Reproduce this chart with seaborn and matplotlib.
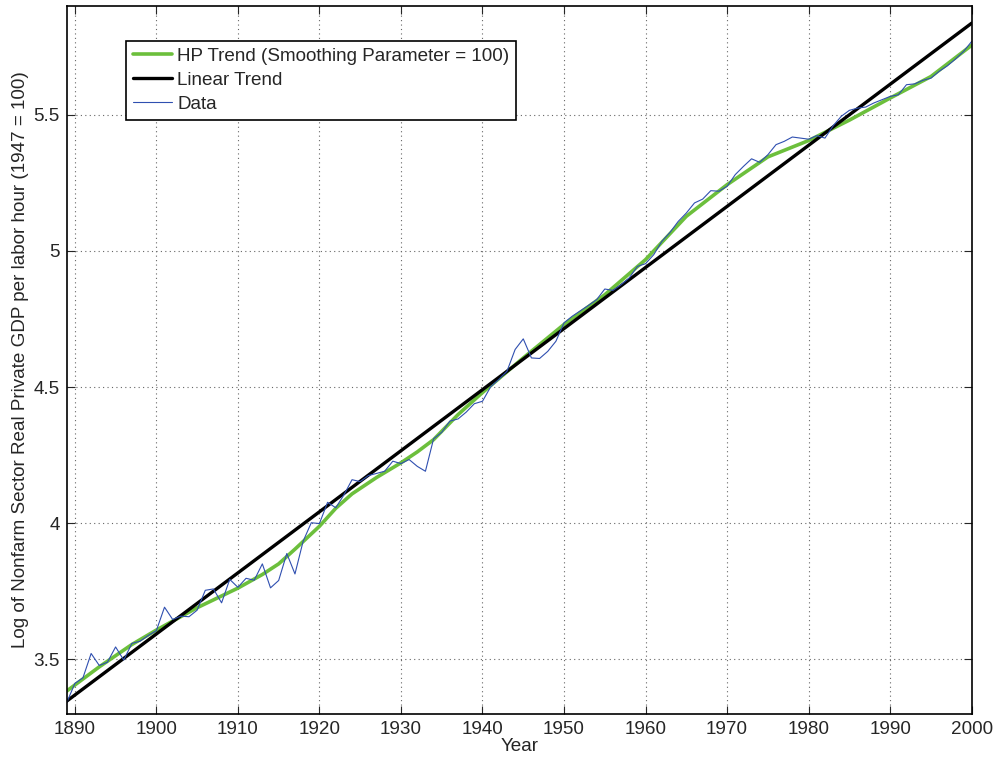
import numpy as np
import pandas as pd
import seaborn as sns
import matplotlib.pyplot as plt

# Log of nonfarm real GDP per labor hour
years = list(range(1889, 2001))
log_gdp = [
    3.341, 3.412, 3.433, 3.522, 3.478, 3.490, 3.546, 3.498, 3.559, 3.567, 3.588,  # 1889-1899
    3.606, 3.692, 3.647, 3.659, 3.657, 3.681, 3.754, 3.759, 3.708, 3.794,         # 1900-1909
    3.765, 3.798, 3.791, 3.851, 3.763, 3.790, 3.889, 3.814, 3.934, 4.002,         # 1910-1919
    3.999, 4.077, 4.057, 4.104, 4.160, 4.153, 4.175, 4.183, 4.191, 4.228,         # 1920-1929
    4.219, 4.234, 4.209, 4.191, 4.310, 4.334, 4.375, 4.383, 4.408, 4.439,         # 1930-1939
    4.448, 4.501, 4.528, 4.558, 4.638, 4.677, 4.607, 4.605, 4.631, 4.668,         # 1940-1949
    4.736, 4.760, 4.780, 4.800, 4.821, 4.860, 4.855, 4.876, 4.901, 4.943,         # 1950-1959
    4.953, 4.986, 5.035, 5.068, 5.108, 5.139, 5.176, 5.190, 5.221, 5.219,         # 1960-1969
    5.237, 5.280, 5.310, 5.338, 5.325, 5.353, 5.390, 5.402, 5.418, 5.414,         # 1970-1979
    5.410, 5.423, 5.414, 5.459, 5.494, 5.516, 5.524, 5.528, 5.543, 5.555,         # 1980-1989
    5.567, 5.573, 5.610, 5.613, 5.626, 5.634, 5.659, 5.679, 5.704, 5.732,         # 1990-1999
    5.769,                                                                        # 2000
]

# HP trend (lambda = 100)
hp_years = [1889, 1893, 1897, 1900, 1905, 1910, 1913, 1915, 1917, 1920, 1922, 1924,
            1927, 1930, 1932, 1934, 1937, 1940, 1945, 1950, 1955, 1960, 1965, 1970,
            1975, 1980, 1985, 1990, 1995, 2000]
hp_trend = [3.384, 3.473, 3.555, 3.608, 3.690, 3.762, 3.812, 3.851, 3.905, 3.989, 4.055, 4.108,
            4.168, 4.222, 4.262, 4.307, 4.399, 4.480, 4.607, 4.730, 4.839, 4.968, 5.127, 5.243,
            5.345, 5.405, 5.480, 5.561, 5.640, 5.755]

# Linear trend end points
lin_years = [1889, 2000]
lin_trend = [3.347, 5.836]

sns.set_style("ticks")
plt.rcParams['font.family'] = ['Liberation Sans', 'DejaVu Sans']
fs = 13.6

fig = plt.figure(figsize=(9.95, 7.61), dpi=100)
ax = fig.add_axes([0.067, 0.0618, 0.9096, 0.9307])

sns.lineplot(x=hp_years, y=hp_trend, ax=ax, color='#6cbf3c', linewidth=2.6,
             label='HP Trend (Smoothing Parameter = 100)', sort=False)
sns.lineplot(x=lin_years, y=lin_trend, ax=ax, color='black', linewidth=2.4,
             label='Linear Trend', sort=False)
sns.lineplot(x=years, y=log_gdp, ax=ax, color='#2f4fb0', linewidth=0.8,
             label='Data', sort=False)

ax.set_xlim(1889, 2000)
ax.set_ylim(3.3, 5.9)
ax.set_xticks(range(1890, 2001, 10))
ax.set_yticks([3.5, 4, 4.5, 5, 5.5])
ax.set_yticklabels(['3.5', '4', '4.5', '5', '5.5'])
ax.tick_params(direction='in', top=True, right=True, length=6, width=0.8,
               labelsize=fs, pad=5)
ax.grid(True, linestyle=(0, (1, 3)), color='#666666', linewidth=0.8)
for s in ax.spines.values():
    s.set_linewidth(1.2)
    s.set_color('black')

ax.set_xlabel('Year', fontsize=fs, labelpad=0)
ax.set_ylabel('Log of Nonfarm Sector Real Private GDP per labor hour (1947 = 100)',
              fontsize=fs, labelpad=3)

leg = ax.legend(loc='upper left', bbox_to_anchor=(0.0655, 0.950), fancybox=False,
                edgecolor='black', framealpha=1, fontsize=fs, handlelength=2.1,
                handletextpad=0.27, borderpad=0.35, labelspacing=0.36, borderaxespad=0)
leg.get_frame().set_linewidth(1.2)

fig.savefig('out.png', dpi=100)
